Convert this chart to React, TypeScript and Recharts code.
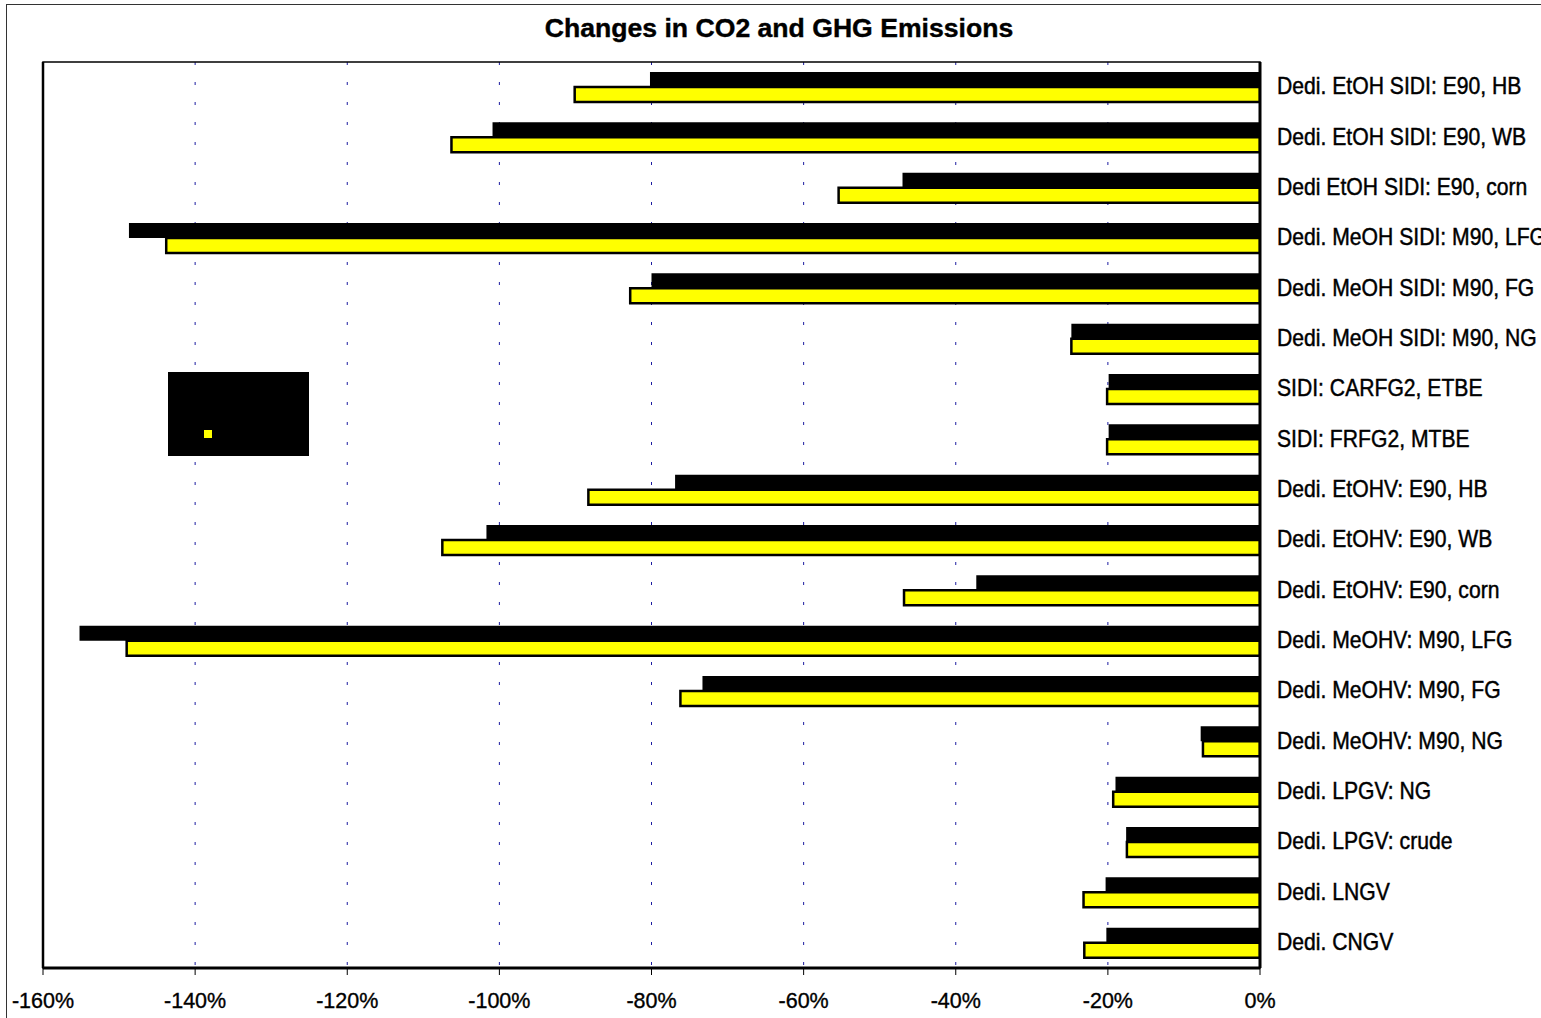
import React from 'react'
import {
  BarChart,
  Bar,
  XAxis,
  YAxis,
  CartesianGrid,
  Legend,
  ReferenceLine,
  ReferenceArea,
} from 'recharts'

const categories = [
  'Dedi. EtOH SIDI: E90, HB',
  'Dedi. EtOH SIDI: E90, WB',
  'Dedi EtOH SIDI: E90, corn',
  'Dedi. MeOH SIDI: M90, LFG',
  'Dedi. MeOH SIDI: M90, FG',
  'Dedi. MeOH SIDI: M90, NG',
  'SIDI: CARFG2, ETBE',
  'SIDI: FRFG2, MTBE',
  'Dedi. EtOHV: E90, HB',
  'Dedi. EtOHV: E90, WB',
  'Dedi. EtOHV: E90, corn',
  'Dedi. MeOHV: M90, LFG',
  'Dedi. MeOHV: M90, FG',
  'Dedi. MeOHV: M90, NG',
  'Dedi. LPGV: NG',
  'Dedi. LPGV: crude',
  'Dedi. LNGV',
  'Dedi. CNGV',
]

// % change, CO2 (black bars)
const co2Change = [
  -80.2, -100.9, -47.0, -148.7, -80.0, -24.8, -19.9, -19.9, -76.9,
  -101.7, -37.3, -155.2, -73.3, -7.8, -19.0, -17.6, -20.3, -20.2,
]

// % change, GHG (yellow bars)
const ghgChange = [
  -90.1, -106.3, -55.4, -143.8, -82.8, -24.8, -20.1, -20.1, -88.3,
  -107.5, -46.8, -149.0, -76.2, -7.5, -19.3, -17.5, -23.2, -23.1,
]

const xTicks = [-160, -140, -120, -100, -80, -60, -40, -20, 0]

const rows = categories.map((name, i) => ({
  name,
  co2: co2Change[i],
  ghg: ghgChange[i],
}))

const FONT = '"Liberation Sans", Arial, Helvetica, sans-serif'
const swatch: Record<string, string> = { co2: '#000000', ghg: '#ffff00' }

function CategoryTick({ x, y, payload }: any) {
  return (
    <text
      transform={`translate(${x + 9},${y}) scale(0.92,1)`}
      dy={7}
      fontSize={23}
      fontFamily={FONT}
      fill="#000"
      stroke="#000"
      strokeWidth={0.45}
      textAnchor="start"
    >
      {payload.value}
    </text>
  )
}

function LegendBox({ payload }: any) {
  return (
    <div style={{ width: 141, height: 84, background: '#000', position: 'relative' }}>
      {(payload || []).map((entry: any, i: number) => (
        <div
          key={entry.value}
          style={{
            position: 'absolute',
            left: 36,
            top: 15 + i * 39,
            display: 'flex',
            alignItems: 'center',
            gap: 6,
            height: 16,
          }}
        >
          <span
            style={{
              width: 8,
              height: 8,
              background: swatch[entry.dataKey] || entry.color,
              display: 'inline-block',
            }}
          />
          <span style={{ color: '#000', fontSize: 14, fontFamily: FONT }}>{entry.value}</span>
        </div>
      ))}
    </div>
  )
}

export default function App() {
  return (
    <div
      style={{
        position: 'absolute',
        left: 0,
        top: 0,
        width: 1541,
        height: 1018,
        background: '#fff',
        overflow: 'hidden',
        fontFamily: FONT,
      }}
    >
      <div
        style={{
          position: 'absolute',
          left: 6,
          top: 4,
          right: 0,
          bottom: 0,
          borderTop: '1px solid #333',
          borderLeft: '1px solid #333',
        }}
      />
      <div
        style={{
          position: 'absolute',
          left: 0,
          top: 15,
          width: 1558,
          textAlign: 'center',
          fontSize: 26.6,
          lineHeight: '26px',
          fontWeight: 'bold',
          color: '#000',
          WebkitTextStroke: '0.4px #000',
        }}
      >
        Changes in CO2 and GHG Emissions
      </div>
      <div style={{ position: 'absolute', left: 0, top: 0 }}>
        <BarChart
          width={1541}
          height={1018}
          data={rows}
          layout="vertical"
          margin={{ top: 62, right: 0, bottom: 0, left: 43 }}
          barSize={15}
          barGap={0}
        >
          <CartesianGrid horizontal={false} stroke="#1c1ca0" strokeDasharray="3 17" />
          <ReferenceArea
            x1={-160}
            x2={0}
            fill="none"
            stroke="#000"
            strokeWidth={1.5}
            ifOverflow="visible"
          />
          <XAxis
            type="number"
            domain={[-160, 0]}
            ticks={xTicks}
            interval={0}
            tickFormatter={(v) => `${v}%`}
            height={50}
            tickSize={7}
            tickMargin={18}
            axisLine={{ stroke: '#000', strokeWidth: 3 }}
            tickLine={{ stroke: '#000' }}
            tick={{ fill: '#000', fontSize: 21.5, fontFamily: FONT, stroke: '#000', strokeWidth: 0.35 }}
            allowDataOverflow
          />
          <YAxis
            type="category"
            dataKey="name"
            orientation="right"
            width={281}
            interval={0}
            axisLine={{ stroke: '#000', strokeWidth: 3 }}
            tickLine={false}
            tick={<CategoryTick />}
          />
          <ReferenceLine x={-160} stroke="#000" strokeWidth={2.5} />
          <Legend
            layout="horizontal"
            align="center"
            verticalAlign="middle"
            content={<LegendBox />}
            wrapperStyle={{ left: 168, top: 372, width: 141, height: 84 }}
          />
          <Bar dataKey="co2" name="CO2" fill="#000000" isAnimationActive={false} />
          <Bar
            dataKey="ghg"
            name="GHG"
            fill="#ffff00"
            stroke="#000000"
            strokeWidth={2.5}
            isAnimationActive={false}
          />
        </BarChart>
      </div>
    </div>
  )
}
